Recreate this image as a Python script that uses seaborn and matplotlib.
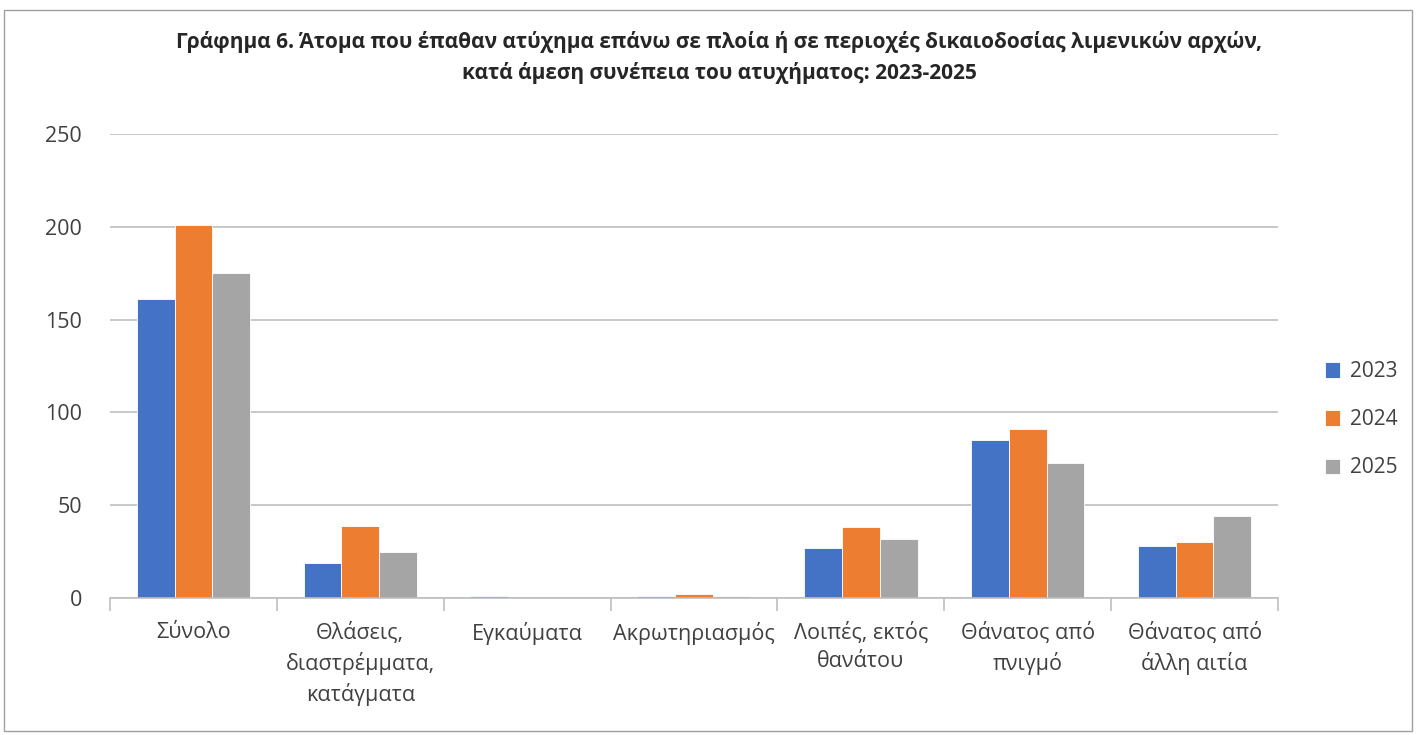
import pandas as pd
import seaborn as sns
import matplotlib.pyplot as plt
import numpy as np

# Κατηγορίες και τιμές (ανάγνωση από το γράφημα)
categories = ['Σύνολο', 'Θλάσεις,\nδιαστρέμματα,\nκατάγματα', 'Εγκαύματα',
              'Ακρωτηριασμός', 'Λοιπές, εκτός\nθανάτου', 'Θάνατος από\nπνιγμό',
              'Θάνατος από\nάλλη αιτία']
years = ['2023', '2024', '2025']
vals_2023 = [161, 19, 1, 1, 27, 85, 28]
vals_2024 = [201, 39, 0, 2, 38, 91, 30]
vals_2025 = [175, 25, 0, 1, 32, 73, 44]
colors = ['#4472C4', '#ED7D31', '#A5A5A5']

df = pd.DataFrame({
    'cat': categories * 3,
    'year': [y for y in years for _ in categories],
    'value': vals_2023 + vals_2024 + vals_2025,
})

sns.set_style('white')
plt.rcParams['font.family'] = ['Open Sans', 'DejaVu Sans']

fig = plt.figure(figsize=(14.16, 7.35), dpi=100)
ax = fig.add_axes([110 / 1416, 1 - 598 / 735, (1278 - 110) / 1416, (598 - 134) / 735])

sns.barplot(data=df, x='cat', y='value', hue='year', palette=colors,
            width=0.68, ax=ax, saturation=1, edgecolor='white', linewidth=0.6)

ax.set_ylim(0, 250)
ax.set_yticks(range(0, 251, 50))
ax.set_xlim(-0.5, len(categories) - 0.5)
ax.yaxis.grid(True, color='#BFBFBF', linewidth=1.2)
ax.set_axisbelow(True)
for s in ['top', 'right', 'left']:
    ax.spines[s].set_visible(False)
ax.spines['bottom'].set_color('#BFBFBF')
ax.spines['bottom'].set_linewidth(1.2)
ax.set_xlabel('')
ax.set_ylabel('')
ax.tick_params(axis='y', length=0, labelsize=15.5, colors='#404040', pad=20)
ax.tick_params(axis='x', length=0, labelsize=15.5, colors='#404040', pad=17)
for lab in ax.get_xticklabels():
    lab.set_linespacing(1.45)

# διαχωριστικές γραμμές κατηγοριών κάτω από τον άξονα
ax.set_xticks(np.arange(-0.5, len(categories)), minor=True)
ax.tick_params(axis='x', which='minor', bottom=True, direction='out', length=9,
               color='#BFBFBF', width=1.2)

leg = ax.legend(loc='center left', bbox_to_anchor=(1.04, 0.384), frameon=False,
                fontsize=15, handlelength=0.75, handleheight=0.75, labelspacing=1.3,
                handletextpad=0.45, borderaxespad=0, borderpad=0)
for t in leg.get_texts():
    t.set_color('#404040')

fig.suptitle('Γράφημα 6. Άτομα που έπαθαν ατύχημα επάνω σε πλοία ή σε περιοχές δικαιοδοσίας λιμενικών αρχών,\n'
             'κατά άμεση συνέπεια του ατυχήματος: 2023-2025',
             x=0.508, y=0.958, fontsize=15, fontweight='bold', linespacing=1.55)

fig.patches.append(plt.Rectangle((4 / 1416, 4 / 735), 1 - 8 / 1416, 1 - 14 / 735,
                                 transform=fig.transFigure, fill=False,
                                 edgecolor='#A0A0A0', linewidth=1))

fig.savefig('out.png', dpi=100)
